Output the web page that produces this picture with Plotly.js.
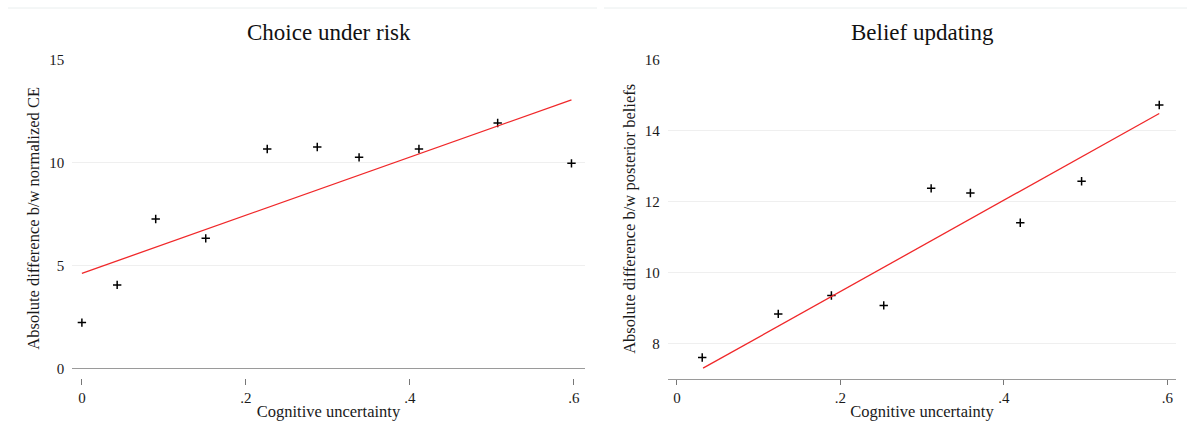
<!DOCTYPE html>
<html><head><meta charset="utf-8">
<script src="https://cdn.plot.ly/plotly-3.0.1.min.js"></script>
<style>html,body{margin:0;padding:0;background:#fff}</style>
</head><body><div id="chart" style="width:1187px;height:422px"></div>
<script>
// Choice under risk (binned scatter + fit)
const riskX = [0, 0.043, 0.090, 0.151, 0.226, 0.287, 0.338, 0.411, 0.507, 0.597];
const riskY = [2.22, 4.05, 7.25, 6.31, 10.65, 10.74, 10.24, 10.65, 11.91, 9.95];
const riskFitX = [0, 0.597];
const riskFitY = [4.61, 13.03];
// Belief updating (binned scatter + fit)
const beliefX = [0.031, 0.124, 0.189, 0.253, 0.311, 0.359, 0.420, 0.495, 0.590];
const beliefY = [7.60, 8.83, 9.35, 9.07, 12.37, 12.24, 11.40, 12.57, 14.72];
const beliefFitX = [0.032, 0.590];
const beliefFitY = [7.30, 14.48];
// ticks & labels
const xTickVals = [0, 0.2, 0.4, 0.6];
const xTickText = ['0', '.2', '.4', '.6'];
const riskYTicks = [0, 5, 10, 15];
const beliefYTicks = [8, 10, 12, 14, 16];
const panelTitles = ['Choice under risk', 'Belief updating'];
const xTitle = 'Cognitive uncertainty';
const riskYTitle = 'Absolute difference b/w normalized CE';
const beliefYTitle = 'Absolute difference b/w posterior beliefs';

const FONT = 'Liberation Serif, Times New Roman, serif';
const W = 1187, H = 422;
const marker = {symbol: 'cross-thin', size: 6, color: '#000', line: {color: '#000', width: 1.5}};
const fitLine = {color: '#f0282a', width: 1.3};

const traces = [
  {x: riskX, y: riskY, type: 'scatter', mode: 'markers', marker: marker, xaxis: 'x', yaxis: 'y', hoverinfo: 'skip'},
  {x: riskFitX, y: riskFitY, type: 'scatter', mode: 'lines', line: fitLine, xaxis: 'x', yaxis: 'y', hoverinfo: 'skip'},
  {x: beliefX, y: beliefY, type: 'scatter', mode: 'markers', marker: marker, xaxis: 'x2', yaxis: 'y2', hoverinfo: 'skip'},
  {x: beliefFitX, y: beliefFitY, type: 'scatter', mode: 'lines', line: fitLine, xaxis: 'x2', yaxis: 'y2', hoverinfo: 'skip'}
];

const tickFont = {family: FONT, size: 15, color: '#1a1a1a'};
const titleFont = {family: FONT, size: 16.5, color: '#1a1a1a'};

const layout = {
  width: W, height: H,
  margin: {l: 0, r: 0, t: 0, b: 0},
  paper_bgcolor: '#fff', plot_bgcolor: '#fff',
  showlegend: false,
  font: {family: FONT, color: '#1a1a1a'},
  xaxis: {
    domain: [72.3 / W, 584.6 / W], range: [-0.0117, 0.613], anchor: 'y',
    tickvals: xTickVals, ticktext: xTickText, ticks: 'outside', ticklen: 6, tickwidth: 1, tickcolor: '#777',
    showline: false, showgrid: false, zeroline: false, tickfont: tickFont,
    title: {text: xTitle, font: titleFont, standoff: 0}, automargin: false
  },
  yaxis: {
    domain: [1 - 377.8 / H, 1 - 58.9 / H], range: [-0.46, 15.02], anchor: 'x',
    tickvals: riskYTicks, ticks: '', showline: false, showgrid: true, gridcolor: '#efefef', gridwidth: 1,
    zeroline: true, zerolinecolor: '#9a9a9a', zerolinewidth: 1, tickfont: tickFont, ticklabelstandoff: 7,
    title: {text: riskYTitle, font: titleFont, standoff: 5}, automargin: false
  },
  xaxis2: {
    domain: [667.8 / W, 1176.1 / W], range: [-0.0111, 0.6106], anchor: 'y2',
    tickvals: xTickVals, ticktext: xTickText, ticks: 'outside', ticklen: 5, tickwidth: 1, tickcolor: '#777',
    showline: true, linecolor: '#9a9a9a', linewidth: 1, showgrid: false, zeroline: false, tickfont: tickFont,
    title: {text: xTitle, font: titleFont, standoff: 0}, automargin: false
  },
  yaxis2: {
    domain: [1 - 378.8 / H, 1 - 58.9 / H], range: [7, 16.02], anchor: 'x2',
    tickvals: beliefYTicks, ticks: '', showline: false, showgrid: true, gridcolor: '#efefef', gridwidth: 1,
    zeroline: false, tickfont: tickFont, ticklabelstandoff: 7,
    title: {text: beliefYTitle, font: titleFont, standoff: 5}, automargin: false
  },
  annotations: [
    {text: panelTitles[0], xref: 'paper', yref: 'paper', x: 328.5 / W, y: 1 - 33 / H, xanchor: 'center', yanchor: 'middle', showarrow: false, font: {family: FONT, size: 23, color: '#111'}},
    {text: panelTitles[1], xref: 'paper', yref: 'paper', x: 922 / W, y: 1 - 33 / H, xanchor: 'center', yanchor: 'middle', showarrow: false, font: {family: FONT, size: 23, color: '#111'}}
  ],
  shapes: [
    {type: 'line', xref: 'paper', yref: 'paper', x0: 8 / W, x1: 597 / W, y0: 1 - 8 / H, y1: 1 - 8 / H, line: {color: '#e9eeee', width: 1}},
    {type: 'line', xref: 'paper', yref: 'paper', x0: 604 / W, x1: 1, y0: 1 - 8 / H, y1: 1 - 8 / H, line: {color: '#e9eeee', width: 1}}
  ]
};

Plotly.newPlot('chart', traces, layout, {staticPlot: true, displayModeBar: false});
</script>
</body></html>
